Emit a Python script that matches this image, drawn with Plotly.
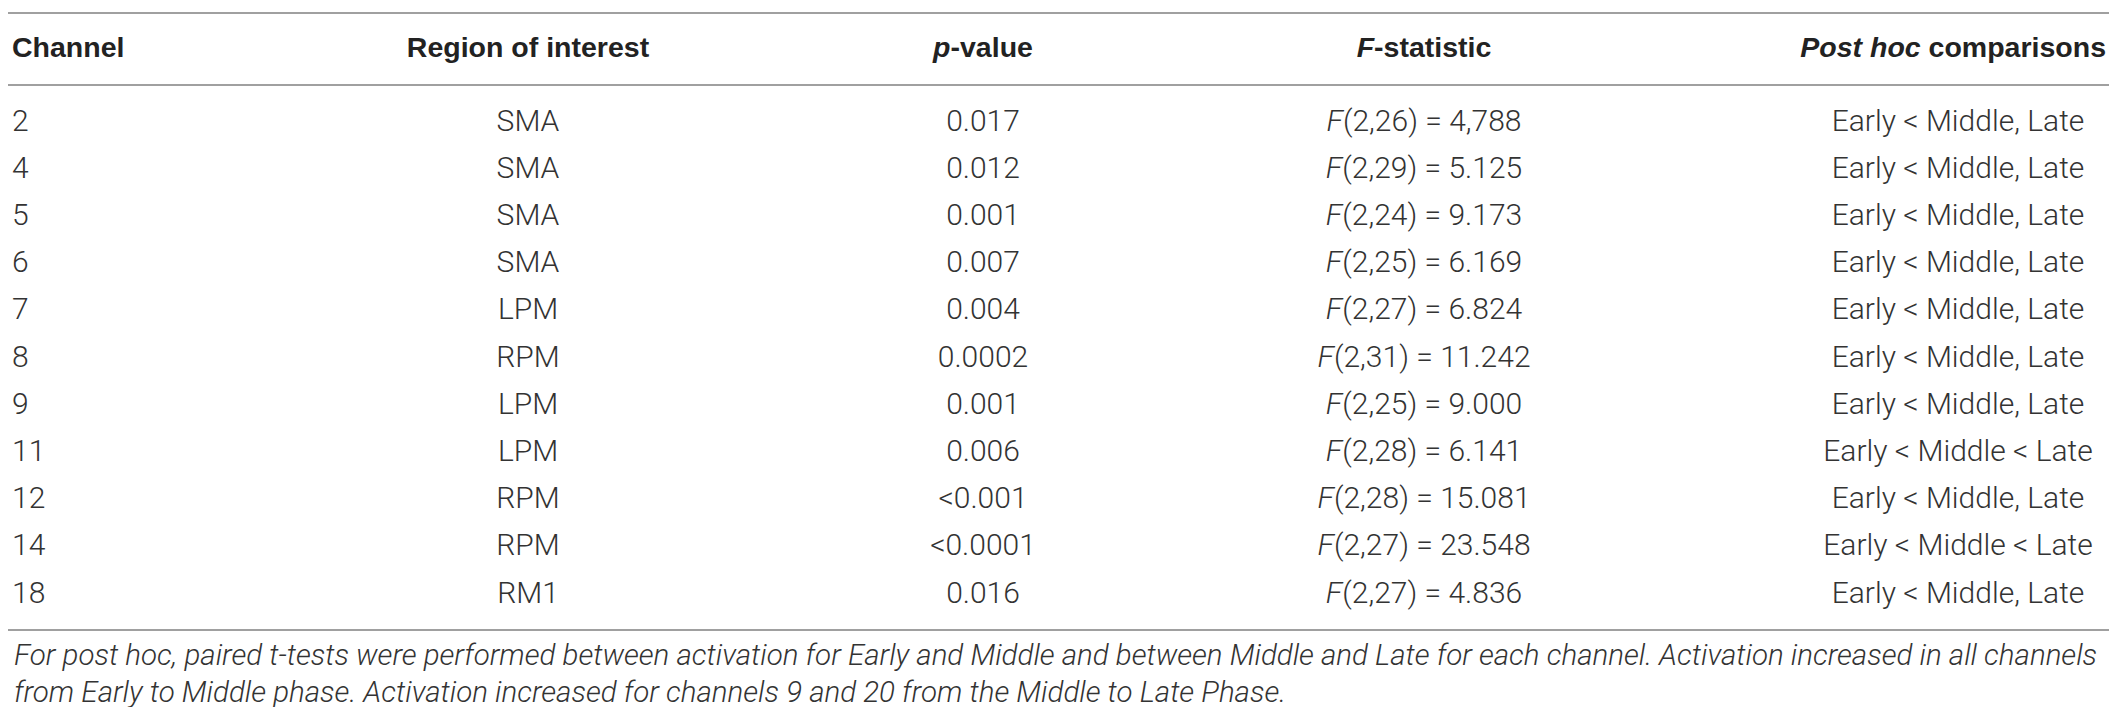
import plotly


# 表格数据
channels = ["2", "4", "5", "6", "7", "8", "9", "11", "12", "14", "18"]
regions = ["SMA", "SMA", "SMA", "SMA", "LPM", "RPM", "LPM", "LPM", "RPM", "RPM", "RM1"]
p_values = ["0.017", "0.012", "0.001", "0.007", "0.004", "0.0002", "0.001", "0.006",
            "&lt;0.001", "&lt;0.0001", "0.016"]
f_df = ["2,26", "2,29", "2,24", "2,25", "2,27", "2,31", "2,25", "2,28", "2,28", "2,27", "2,27"]
f_values = ["4,788", "5.125", "9.173", "6.169", "6.824", "11.242", "9.000", "6.141",
            "15.081", "23.548", "4.836"]
post_hoc = ["Early &lt; Middle, Late"] * 7 + ["Early &lt; Middle &lt; Late",
                                               "Early &lt; Middle, Late",
                                               "Early &lt; Middle &lt; Late",
                                               "Early &lt; Middle, Late"]
headers = ["Channel", "Region of interest", "<i>p</i>-value", "<i>F</i>-statistic",
           "<i>Post hoc</i> comparisons"]
footnote = ["For post hoc, paired t-tests were performed between activation for Early and Middle "
            "and between Middle and Late for each channel. Activation increased in all channels",
            "from Early to Middle phase. Activation increased for channels 9 and 20 from the "
            "Middle to Late Phase."]

W, H = 2117, 707
ROW0, ROW_STEP = 115, 47.2


def py(p):
    # 像素 -> 行坐标
    return (p - ROW0) / ROW_STEP


def draw_table():
    rows = list(range(len(channels)))
    body_font = dict(family="Roboto", size=30, color="#333333", weight=300)
    head_font = dict(family="Liberation Sans", size=28.5, color="#222222", weight="bold")

    f_text = ["<i>F</i>(" + d + ") = " + v for d, v in zip(f_df, f_values)]
    columns = [channels, regions, p_values, f_text, post_hoc]
    col_x = [4, 520, 975, 1416, 1950]
    col_pos = ["middle right", "middle center", "middle center", "middle center", "middle center"]
    # 表头位置 (最后一列靠右)
    head_x = [4, 520, 975, 1416, 2098]
    head_pos = ["middle right", "middle center", "middle center", "middle center", "middle left"]

    data = []
    for col, x, pos in zip(columns, col_x, col_pos):
        data.append(plotly.graph_objs.Scatter(
            x=[x] * len(col), y=rows, text=col, mode="text", cliponaxis=False,
            textposition=pos, textfont=body_font, hoverinfo="skip", showlegend=False
        ))
    data.append(plotly.graph_objs.Scatter(
        x=head_x, y=[py(42)] * len(headers), text=headers, mode="text", cliponaxis=False,
        textposition=head_pos, textfont=head_font, hoverinfo="skip", showlegend=False
    ))

    # 横线
    shapes = []
    for p in [5, 77, 622]:
        shapes.append(dict(type="line", xref="x", yref="y", x0=0, x1=W, y0=py(p), y1=py(p),
                           line=dict(color="#a0a0a0", width=2)))

    # 脚注
    annotations = []
    for text, p in zip(footnote, [647, 684]):
        annotations.append(dict(x=4, y=py(p), xref="x", yref="y", text="<i>" + text + "</i>",
                                showarrow=False, xanchor="left", yanchor="middle",
                                font=dict(family="Roboto", size=29.5, color="#333333", weight=300)))

    layout = plotly.graph_objs.Layout(
        width=W, height=H, margin=dict(l=0, r=0, t=0, b=0),
        paper_bgcolor="white", plot_bgcolor="white",
        xaxis=dict(range=[0, W], visible=False, fixedrange=True),
        yaxis=dict(range=[py(H), py(0)], visible=False, fixedrange=True),
        shapes=shapes, annotations=annotations
    )
    figure = plotly.graph_objs.Figure(data=data, layout=layout)
    figure.write_html("out.html")


if __name__ == "__main__":
    draw_table()
